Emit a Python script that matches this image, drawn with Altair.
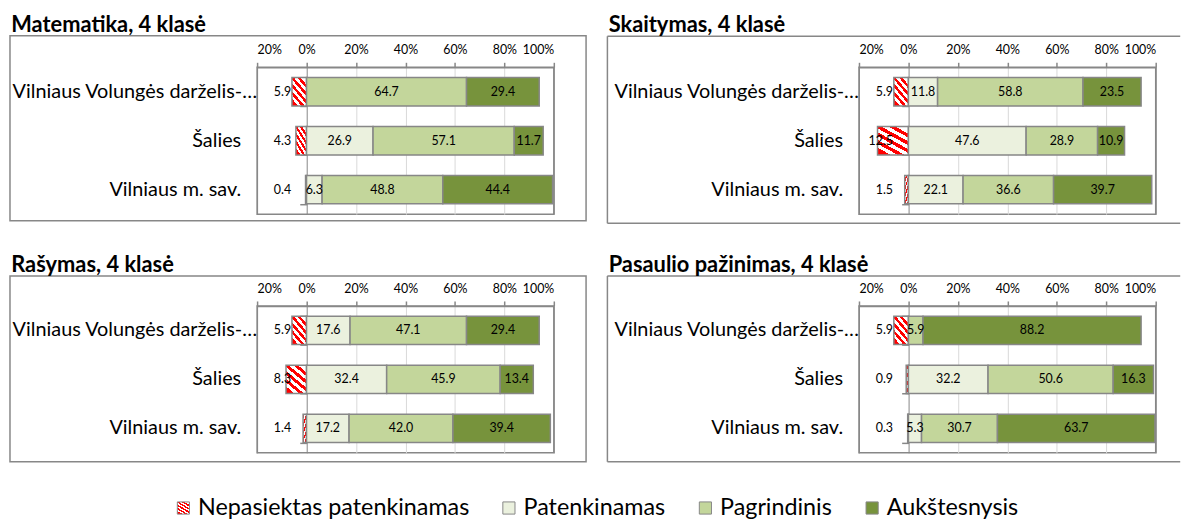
import altair as alt
import pandas as pd

titles = ["Matematika, 4 klasė", "Skaitymas, 4 klasė", "Rašymas, 4 klasė", "Pasaulio pažinimas, 4 klasė"]
schools = ["Vilniaus Volungės darželis-…", "Šalies", "Vilniaus m. sav."]
levels = ["Nepasiektas patenkinamas", "Patenkinamas", "Pagrindinis", "Aukštesnysis"]

# rows follow `schools`, columns follow `levels` (percent)
matematika = [[5.9, 0.0, 64.7, 29.4], [4.3, 26.9, 57.1, 11.7], [0.4, 6.3, 48.8, 44.4]]
skaitymas = [[5.9, 11.8, 58.8, 23.5], [12.5, 47.6, 28.9, 10.9], [1.5, 22.1, 36.6, 39.7]]
rasymas = [[5.9, 17.6, 47.1, 29.4], [8.3, 32.4, 45.9, 13.4], [1.4, 17.2, 42.0, 39.4]]
pasaulio = [[5.9, 0.0, 5.9, 88.2], [0.9, 32.2, 50.6, 16.3], [0.3, 5.3, 30.7, 63.7]]

tick_values = [-20, 0, 20, 40, 60, 80, 100]
green_colors = ["#ebf1de", "#c3d69b", "#77933c"]

FONT = "Lato"
GRAY = "#878787"
GRID = "#d9d9d9"

rows = []
for title, table in zip(titles, [matematika, skaitymas, rasymas, pasaulio]):
    for school, vals in zip(schools, table):
        for j, (lvl, v) in enumerate(zip(levels, vals)):
            rows.append({"subject": title, "school": school, "level": lvl, "ord": j,
                         "value": v, "signed": -v if j == 0 else v})
df = pd.DataFrame(rows)

# red/white diagonal hatch as a hard-stop linear gradient
N = 5
stops = []
for k in range(2 * N):
    c = "#ff0000" if k % 2 == 0 else "#ffffff"
    stops.append("{offset: %.4f, color: '%s'}" % (k / (2 * N), c))
    stops.append("{offset: %.4f, color: '%s'}" % ((k + 1) / (2 * N), c))
hatch = "{gradient: 'linear', x1: 0.2, y1: 1, x2: 0.8, y2: 0, stops: [" + ", ".join(stops) + "]}"

color_scale = alt.Scale(domain=levels, range=[alt.ExprRef(expr=hatch)] + green_colors)

W, H = 299, 148
# outer box of each panel, in pixels relative to its plot area (x0, x1, y0, y1)
FRAMES = [(-249, 331.5, -31.75, 154.55),
          (-253.5, 323.7, -31.25, 157.25),
          (-249, 331.5, -30.25, 157.05),
          (-253.5, 323.7, -30.25, 157.05)]

# legend position is relative to the first panel's plot origin
legend = alt.Legend(orient="none", legendX=-86, legendY=432, direction="horizontal", title=None,
                    symbolType="square", symbolSize=150, symbolStrokeColor=GRAY, symbolStrokeWidth=1,
                    labelFont=FONT, labelFontSize=23.5, labelColor="black", columnPadding=28,
                    labelOffset=3, labelLimit=500, symbolOpacity=1, padding=0)

xs = alt.Scale(domain=[-20, 100], nice=False, zero=False)
ys = alt.Scale(domain=schools, paddingInner=0.42, paddingOuter=0.21)
xaxis = alt.Axis(orient="top", values=tick_values, labelExpr="abs(datum.value) + '%'", title=None,
                 grid=True,
                 gridColor={"condition": {"test": "datum.value === 0 || datum.value === -20 || datum.value === 100",
                                          "value": GRAY}, "value": GRID})
# category ticks on the 0% line
yaxis = alt.Axis(orient="left", offset=-50, labels=False, domain=False, ticks=True, tickBand="extent",
                 tickSize=7, tickColor=GRAY, tickWidth=1.5, title=None, grid=False)


def panel(i):
    title = titles[i]
    fx0, fx1, fy0, fy1 = FRAMES[i]
    right = i % 2 == 1
    base = alt.Chart(df).transform_filter(alt.datum.subject == title)
    one = alt.Data(values=[{"k": 1}])
    if right:
        frame = alt.layer(
            alt.Chart(one).mark_rule(color=GRAY, strokeWidth=1.5).encode(
                x=alt.value(fx0), x2=alt.value(fx1), y=alt.value(fy0)),
            alt.Chart(one).mark_rule(color=GRAY, strokeWidth=1.5).encode(
                x=alt.value(fx0), x2=alt.value(fx1), y=alt.value(fy1)),
            alt.Chart(one).mark_rule(color=GRAY, strokeWidth=1.5).encode(
                x=alt.value(fx0), y=alt.value(fy0), y2=alt.value(fy1)),
        )
    else:
        frame = alt.Chart(one).mark_rect(fill="transparent", stroke=GRAY, strokeWidth=1.5).encode(
            x=alt.value(fx0), x2=alt.value(fx1), y=alt.value(fy0), y2=alt.value(fy1))

    yenc = alt.Y("school:N", sort=schools, scale=ys, axis=yaxis)

    bars = base.transform_filter(alt.datum.value > 0).mark_bar(stroke=GRAY, strokeWidth=1.5).encode(
        x=alt.X("signed:Q", stack="zero", scale=xs, axis=xaxis),
        y=yenc,
        color=alt.Color("level:N", scale=color_scale, legend=legend),
        order=alt.Order("ord:Q"),
    )

    pos = base.transform_filter((alt.datum.ord > 0) & (alt.datum.value > 0)).transform_stack(
        stack="value", groupby=["school"], as_=["v0", "v1"], sort=[alt.SortField("ord", order="ascending")]
    ).transform_calculate(mid="(datum.v0 + datum.v1) / 2").mark_text(
        font=FONT, fontSize=12.5, color="black").encode(
        x=alt.X("mid:Q", scale=xs, axis=xaxis),
        y=yenc,
        text=alt.Text("value:Q", format=".1f"),
    )

    neg = base.transform_filter(alt.datum.ord == 0).mark_text(
        font=FONT, fontSize=12.5, color="black", align="right", dx=-15.5).encode(
        x=alt.datum(0),
        y=yenc,
        text=alt.Text("value:Q", format=".1f"),
    )

    # category labels (the truncated long name reaches the plot edge, as in the original)
    cat_long = base.transform_filter((alt.datum.ord == 0) & (alt.datum.school == schools[0])).mark_text(
        font=FONT, fontSize=20, color="black", align="right").encode(
        x=alt.value(0), y=yenc, text="school:N")
    cat_short = base.transform_filter((alt.datum.ord == 0) & (alt.datum.school != schools[0])).mark_text(
        font=FONT, fontSize=20, color="black", align="right").encode(
        x=alt.value(-16), y=yenc, text="school:N")

    return alt.layer(frame, bars, pos, neg, cat_long, cat_short).properties(
        width=W, height=H,
        title=alt.TitleParams(title, anchor="start", font=FONT, fontSize=22, fontWeight="bold",
                              color="black", offset=-1.5, dx=2),
    )


row1 = alt.hconcat(panel(0), panel(1), spacing=18.5)
row2 = alt.hconcat(panel(2), panel(3), spacing=18.5)

chart = alt.vconcat(row1, row2, spacing=27.5).properties(
    padding={"left": 0, "top": 2.75, "right": 0, "bottom": 0}
).configure_view(stroke=GRAY, strokeWidth=1.5).configure_axis(
    labelFont=FONT, labelColor="black"
).configure_axisX(
    labelFontSize=12.5, labelPadding=6, tickColor=GRAY, tickSize=5, tickWidth=1.5,
    domainColor=GRAY, domainWidth=1.5, gridWidth=1
)

chart.save("out.html", embed_options={"renderer": "svg", "actions": False})
